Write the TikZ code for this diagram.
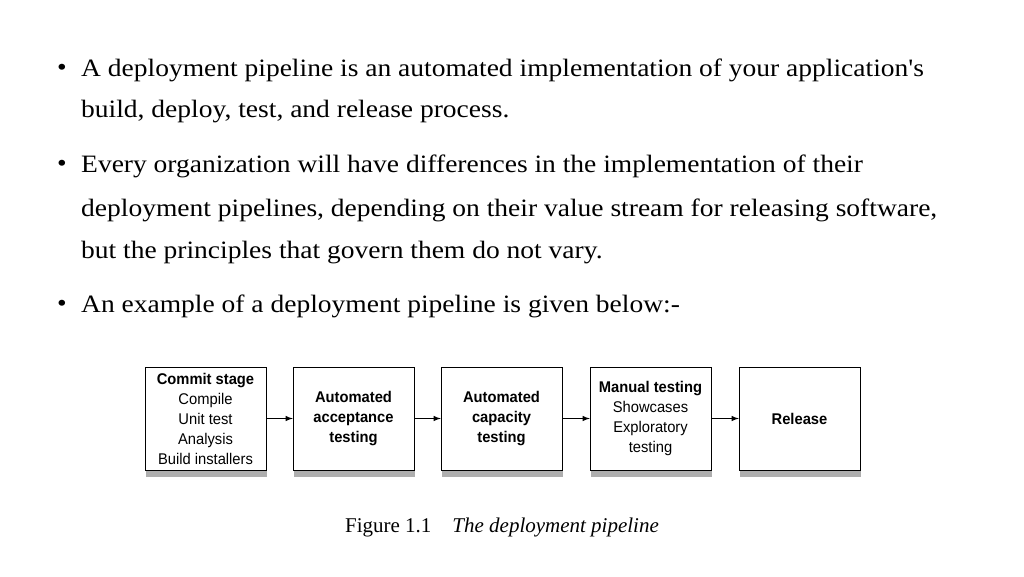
\documentclass[tikz,border=0pt]{standalone}
\usepackage{fontspec}
\setmainfont{Liberation Serif}
\setsansfont{Liberation Sans}
\newfontfamily\widefont[FakeStretch=1.1]{Liberation Serif}
\newfontfamily\boxfont[FakeStretch=0.95]{Liberation Sans}
\usetikzlibrary{shadows}
\begin{document}
\begin{tikzpicture}[x=1pt,y=-1pt]
	\tikzset{line/.style = {anchor = west, inner sep = 0pt, font = \widefont\fontsize{25}{28}\selectfont}}
	\tikzset{stage/.style = {draw, fill = white, minimum width = 121pt, minimum height = 103pt, inner sep = 2pt, align = center, font = \boxfont\fontsize{15.5}{20}\selectfont, drop shadow = {shadow xshift = 1pt, shadow yshift = -7pt, opacity = 0.45, fill = black!70}}}
	\useasboundingbox (0,0) rectangle (1024,576);

%% Bullet text
\node[line] (b1) at (57,70) {\textbullet};
\node[line] (l1) at (81,70) {A deployment pipeline is an automated implementation of your application's};
\node[line] (l2) at (81,112) {build, deploy, test, and release process.};
\node[line] (b2) at (57,166) {\textbullet};
\node[line] (l3) at (81,166) {Every organization will have differences in the implementation of their};
\node[line] (l4) at (81,210) {deployment pipelines, depending on their value stream for releasing software,};
\node[line] (l5) at (81,253) {but the principles that govern them do not vary.};
\node[line] (b3) at (57,306) {\textbullet};
\node[line] (l6) at (81,306) {An example of a deployment pipeline is given below:-};

%% Stages
\node[stage] (commit) at (205.5,418.5) {\textbf{Commit stage}\\Compile\\Unit test\\Analysis\\Build installers};
\node[stage] (acceptance) at (353.5,418.5) {\textbf{Automated}\\\textbf{acceptance}\\\textbf{testing}};
\node[stage] (capacity) at (501.5,418.5) {\textbf{Automated}\\\textbf{capacity}\\\textbf{testing}};
\node[stage] (manual) at (650.5,418.5) {\textbf{Manual testing}\\Showcases\\Exploratory\\testing};
\node[stage] (release) at (799.5,418.5) {\textbf{Release}};

%% Edges
\draw[-latex, line width = 1.5pt] (commit) -- (acceptance);
\draw[-latex, line width = 1.5pt] (acceptance) -- (capacity);
\draw[-latex, line width = 1.5pt] (capacity) -- (manual);
\draw[-latex, line width = 1.5pt] (manual) -- (release);

%% Caption
\node[font = \fontsize{21}{24}\selectfont] (caption) at (502,527) {Figure 1.1\quad\textit{The deployment pipeline}};
\end{tikzpicture}
\end{document}
